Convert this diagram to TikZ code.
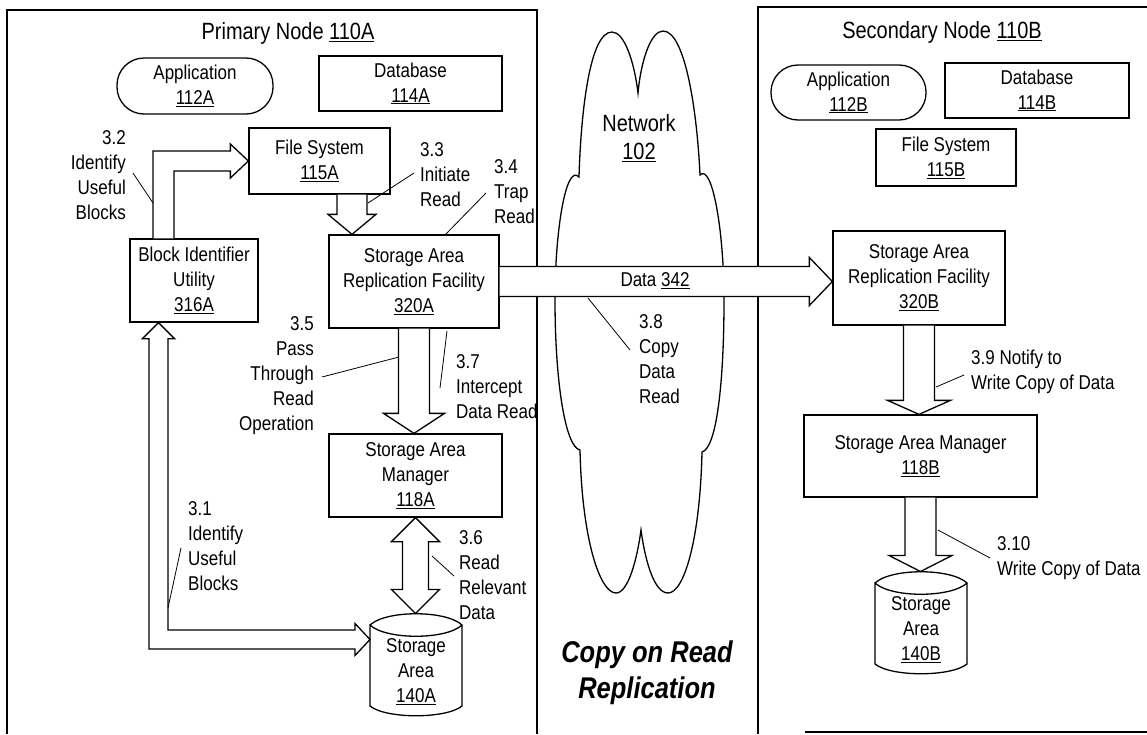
\documentclass[tikz,border=0pt]{standalone}
\usepackage{fontspec}
\setmainfont{Liberation Sans}[FakeStretch=0.85]
\usetikzlibrary{calc, positioning}

\begin{document}
\begin{tikzpicture}[
                x=1pt, y=-1pt,
                every node/.style={align=center, font=\fontsize{20}{25}\selectfont},
                box/.style={draw, line width=1.3pt, inner sep=0pt},
                pill/.style={box, rounded corners=27pt},
                heading/.style={font=\fontsize{23.5}{28}\selectfont},
                tag/.style={inner sep=0pt},
                lead/.style={line width=0.8pt},
                fat/.style={draw, fill=white, line width=1.3pt},
                fatdown/.style n args={3}{fat, to path={let \p1=(\tikztostart), \p2=(\tikztotarget) in
                    (\x1-#1,\y1) -- (\x1-#1,\y2+#3) -- (\x1-#2,\y2+#3) -- (\x1,\y2)
                    -- (\x1+#2,\y2+#3) -- (\x1+#1,\y2+#3) -- (\x1+#1,\y1)}},
                fatboth/.style n args={3}{fat, to path={let \p1=(\tikztostart), \p2=(\tikztotarget) in
                    (\x1-#1,\y1-#3) -- (\x1-#1,\y2+#3) -- (\x1-#2,\y2+#3) -- (\x1,\y2)
                    -- (\x1+#2,\y2+#3) -- (\x1+#1,\y2+#3) -- (\x1+#1,\y1-#3)
                    -- (\x1+#2,\y1-#3) -- (\x1,\y1) -- (\x1-#2,\y1-#3) -- cycle}},
                fatright/.style n args={3}{fat, to path={let \p1=(\tikztostart), \p2=(\tikztotarget) in
                    (\x1,\y1+#1) -- (\x2-#3,\y1+#1) -- (\x2-#3,\y1+#2) -- (\x2,\y1)
                    -- (\x2-#3,\y1-#2) -- (\x2-#3,\y1-#1) -- (\x1,\y1-#1)}}]

            \useasboundingbox (0,0) rectangle (1147,734);

            % Primary node
            \draw[line width=1.3pt] (7,734) -- (7,10) -- (537,10) -- (537,734);
            \node[heading] (prim) at (288,33) {Primary Node \underline{110A}};
            \node[pill, minimum width=156pt, minimum height=56pt] (appa) at (195,86) {Application\\\underline{112A}};
            \node[box, minimum width=183pt, minimum height=55pt] (dba) at (410.5,83.5) {Database\\\underline{114A}};
            \node[box, minimum width=141pt, minimum height=66pt] (fsa) at (319.5,161) {File System\\\underline{115A}};
            \node[box, minimum width=128pt, minimum height=83pt] (biu) at (194,280.5) {Block Identifier\\Utility\\\underline{316A}};
            \node[box, minimum width=170pt, minimum height=93pt] (sarfa) at (414,281.5) {Storage Area\\Replication Facility\\\underline{320A}};
            \node[box, minimum width=173pt, minimum height=83pt] (sama) at (415.5,475.5) {Storage Area\\Manager\\\underline{118A}};
            \node (saa) at (416,672) {Storage\\Area\\\underline{140A}};

            % Secondary node
            \draw[line width=1.3pt] (758,734) -- (758,7) -- (1147,7);
            \draw[line width=1.3pt] (805,732) -- (1147,732);
            \node[heading] (sec) at (942,32) {Secondary Node \underline{110B}};
            \node[pill, minimum width=155pt, minimum height=55pt] (appb) at (848.5,92.5) {Application\\\underline{112B}};
            \node[box, minimum width=184pt, minimum height=55pt] (dbb) at (1037,90.5) {Database\\\underline{114B}};
            \node[box, minimum width=140pt, minimum height=57pt] (fsb) at (946,157.5) {File System\\\underline{115B}};
            \node[box, minimum width=172pt, minimum height=94pt] (sarfb) at (919,278) {Storage Area\\Replication Facility\\\underline{320B}};
            \node[box, minimum width=233pt, minimum height=82pt] (samb) at (920.5,456) {Storage Area Manager\\\underline{118B}};
            \node (sab) at (921,630) {Storage\\Area\\\underline{140B}};

            % Storage drums
            \foreach \n in {saa,sab}{
                \draw[line width=1.3pt] ($(\n)+(-46,-47)$) .. controls ($(\n)+(-30,-62)$) and ($(\n)+(30,-62)$) .. ($(\n)+(46,-47)$)
                    .. controls ($(\n)+(30,-32)$) and ($(\n)+(-30,-32)$) .. ($(\n)+(-46,-47)$)
                    -- ($(\n)+(-46,34)$) .. controls ($(\n)+(-30,47)$) and ($(\n)+(30,47)$) .. ($(\n)+(46,34)$) -- ($(\n)+(46,-47)$);
                \coordinate (top\n) at ($(\n)+(0,-58.5)$);
            }

            % Network cloud
            \draw[line width=1.3pt] (579,177) .. controls (581,110) and (590,32) .. (612,32)
                .. controls (624,32) and (634,60) .. (638,93)
                .. controls (641,60) and (651,31) .. (663,31)
                .. controls (685,31) and (697,110) .. (700,175)
                .. controls (712,163) and (724,230) .. (724,300)
                .. controls (724,380) and (717,448) .. (702,452)
                .. controls (700,540) and (684,593) .. (668,593)
                .. controls (654,593) and (645,560) .. (641,530)
                .. controls (637,560) and (628,593) .. (616,593)
                .. controls (600,593) and (582,540) .. (580,450)
                .. controls (565,447) and (555,380) .. (555,300)
                .. controls (555,230) and (566,163) .. (579,177) -- cycle;
            \node[heading] (net) at (639,138) {Network\\\underline{102}};
            \node[font=\fontsize{30}{36}\selectfont\bfseries\itshape] (cor) at (647,673) {Copy on Read\\Replication};

            % Block arrows
            \coordinate (fsout) at ($(fsa.south)+(32.5,0)$);
            \path[fatdown={15pt}{24pt}{20pt}] (fsout) to (fsout |- sarfa.north);
            \path[fatdown={15.5pt}{30.5pt}{20pt}] (sarfa.south) to (sarfa.south |- sama.north);
            \path[fatboth={13pt}{24pt}{24pt}] (sama.south) to (sama.south |- topsaa);
            \path[fatright={15pt}{24pt}{23pt}] (sarfa.east) to (sarfa.east -| sarfb.west);
            \path[fatdown={15.5pt}{31.5pt}{14pt}] (sarfb.south) to (sarfb.south |- samb.north);
            \path[fatdown={15.5pt}{31.5pt}{16pt}] (samb.south) to (samb.south |- topsab);

            \coordinate (biuup) at ($(biu.north)+(-30.5,0)$);
            \path[fat] let \p1=(biuup), \p2=(fsa.west) in
                (\x1-10.5pt,\y1) |- (\x2-18pt,\y2+10pt) -- (\x2-18pt,\y2+17pt) -- (\p2)
                -- (\x2-18pt,\y2-17pt) -- (\x2-18pt,\y2-10pt) -| (\x1+10.5pt,\y1);

            \coordinate (biudown) at ($(biu.south)+(-35.5,0)$);
            \coordinate (saport) at ($(saa)+(-46,-32.5)$);
            \path[fat] let \p1=(biudown), \p2=(saport) in
                (\x1-9.5pt,\y1-16pt) |- (\x2-15pt,\y2-9.5pt) -- (\x2-15pt,\y2-16pt) -- (\p2)
                -- (\x2-15pt,\y2+16pt) -- (\x2-15pt,\y2+9.5pt) -| (\x1+9.5pt,\y1-16pt)
                -- (\x1+16pt,\y1-16pt) -- (\p1) -- (\x1-16pt,\y1-16pt) -- cycle;

            % Step labels
            \node (dlbl) at (655,281) {Data \underline{342}};
            \node[tag, align=right, anchor=east] (l32) at (126,175) {3.2\\Identify\\Useful\\Blocks};
            \draw[lead] (133,173) -- (153,203);
            \node[tag, align=left, anchor=west] (l33) at (420,175) {3.3\\Initiate\\Read};
            \draw[lead] (414,173) -- (368,203);
            \node[tag, align=left, anchor=west] (l34) at (494,192) {3.4\\Trap\\Read};
            \draw[lead] (486,193) -- (445,235);
            \node[tag, align=right, anchor=east] (l35) at (314,376) {3.5\\Pass\\Through\\Read\\Operation};
            \draw[lead] (322,377) -- (399,357);
            \node[tag, align=left, anchor=west] (l37) at (456,387) {3.7\\Intercept\\Data Read};
            \draw[lead] (447,331) -- (440,388);
            \node[tag, align=left, anchor=west] (l31) at (188,546) {3.1\\Identify\\Useful\\Blocks};
            \draw[lead] (181,548) -- (168,608);
            \node[tag, align=left, anchor=west] (l36) at (459,575) {3.6\\Read\\Relevant\\Data};
            \draw[lead] (432,556) -- (454,576);
            \node[tag, align=left, anchor=west] (l38) at (639,359) {3.8\\Copy\\Data\\Read};
            \draw[lead] (588,298) -- (630,350);
            \node[tag, align=left, anchor=west] (l39) at (971,372) {3.9 Notify to\\Write Copy of Data};
            \draw[lead] (964,375) -- (936,387);
            \node[tag, align=left, anchor=west] (l310) at (997,558) {3.10\\Write Copy of Data};
            \draw[lead] (938,530) -- (990,558);

        \end{tikzpicture}
\end{document}
